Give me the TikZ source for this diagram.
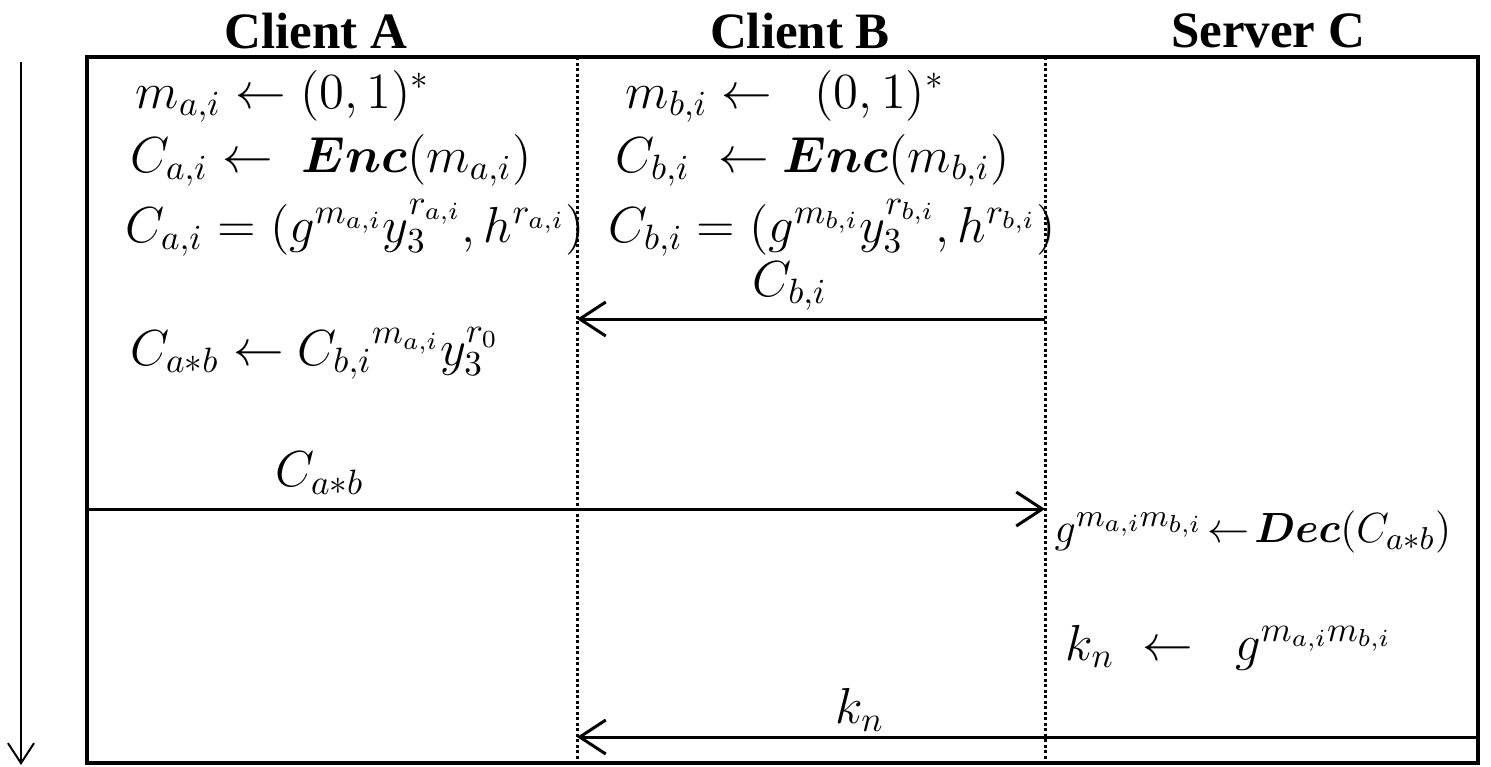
\documentclass[tikz,border=0pt]{standalone}
\usepackage[no-math]{fontspec}
\usepackage{bm}
\newfontfamily\headfont{Liberation Serif}
\usetikzlibrary{arrows.meta,positioning}

\begin{document}
\begin{tikzpicture}[x=0.01cm,y=-0.01cm,
    every node/.style={font=\fontsize{14}{17}\selectfont,inner sep=0pt},
    head/.style={font=\headfont\bfseries\fontsize{14.5}{17}\selectfont},
    lane/.style={line width=0.3mm,dash pattern=on 0.3mm off 0.25mm},
    msg/.style={-{Straight Barb[length=2.6mm,width=3.4mm]},line width=0.3mm},
    stmt/.style={anchor=base west}]
  \useasboundingbox (0,0) rectangle (1491,766);
  % parties
  \node[head] (hA) at (316,31) {Client A};
  \node[head] (hB) at (800,31) {Client B};
  \node[head] (hC) at (1268,31) {Server C};
  \coordinate (laneA) at (87,57);
  \coordinate (laneB) at (577,57);
  \coordinate (laneC) at (1045,57);
  \coordinate (laneR) at (1478,57);
  \coordinate (bot) at (87,763);
  \draw[line width=0.4mm] (laneA) rectangle (laneR |- bot);
  \foreach \l in {laneB,laneC}
    \draw[lane] (\l) -- (\l |- bot);
  % time
  \coordinate (t0) at (21,62);
  \coordinate (t1) at (21,765);
  \draw[-{Straight Barb[length=2mm,width=2.6mm]},line width=0.2mm] (t0) -- (t1);
  % local steps
  \foreach \x/\y/\name/\txt in {
    135/108/a1/{$m_{a,i}\leftarrow(0,1)^*$},
    130/172/a2/{$C_{a,i}\leftarrow\;\bm{Enc}(m_{a,i})$},
    125/242/a3/{$C_{a,i}=(g^{m_{a,i}}y_3^{r_{a,i}},h^{r_{a,i}})$},
    130/365/a4/{$C_{a*b}\leftarrow{C_{b,i}}^{m_{a,i}}y_3^{r_0}$},
    625/108/b1/{$m_{b,i}\leftarrow\;\;(0,1)^*$},
    615/172/b2/{$C_{b,i}\;\leftarrow\bm{Enc}(m_{b,i})$},
    608/242/b3/{$C_{b,i}=(g^{m_{b,i}}y_3^{r_{b,i}},h^{r_{b,i}})$},
    1054/542/c1/{\fontsize{13.2}{16}\selectfont$g^{m_{a,i}m_{b,i}}\mkern-3mu\leftarrow\mkern-3mu\bm{Dec}(C_{a*b})$},
    1065/660/c2/{$k_n\;\leftarrow\;\;g^{m_{a,i}m_{b,i}}$}}
    \node[stmt] (\name) at (\x,\y) {\txt};
  % messages
  \coordinate (y1) at (0,319);
  \coordinate (y2) at (0,509);
  \coordinate (y3) at (0,737);
  \draw[msg] (laneC |- y1) -- node[pos=0.545,above=0.7mm] (m1) {$C_{b,i}$} (laneB |- y1);
  \draw[msg] (laneA |- y2) -- node[pos=0.243,above=1.3mm] (m2) {$C_{a*b}$} (laneC |- y2);
  \draw[msg] (laneR |- y3) -- node[pos=0.686,above=0.4mm] (m3) {$k_n$} (laneB |- y3);
\end{tikzpicture}
\end{document}
